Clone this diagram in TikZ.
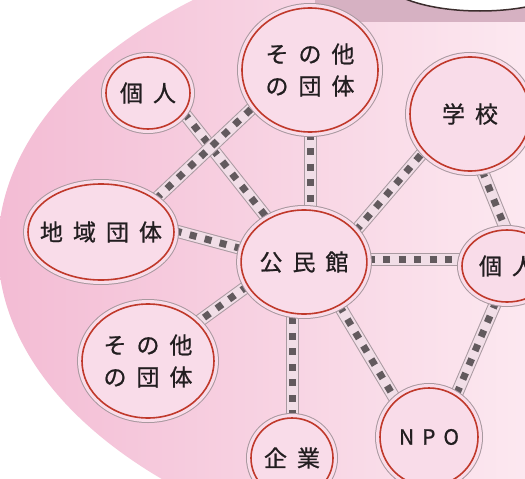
\documentclass[tikz,border=0pt]{standalone}
\usepackage{fontspec}
\newfontfamily\jp[FakeBold=0.8]{Noto Sans CJK JP}
\usetikzlibrary{shapes.geometric}
\pgfdeclarelayer{bg}
\pgfdeclarelayer{lines}
\pgfsetlayers{bg,lines,main}
\definecolor{pinkA}{HTML}{F3BCD4}
\definecolor{pinkB}{HTML}{FCE8F0}
\definecolor{cfill}{HTML}{F9DCE9}
\definecolor{bred}{HTML}{C0392B}
\definecolor{halo}{HTML}{A8989F}
\definecolor{txt}{HTML}{221E20}
\definecolor{band}{HTML}{F1DEE7}
\definecolor{bandedge}{HTML}{A99AA1}
\definecolor{sq}{HTML}{625A5E}
\definecolor{mauve}{HTML}{D6B1C2}
\definecolor{bubbleline}{HTML}{3B2D2D}
\newcommand\gp{\hspace{10pt}}
\tikzset{
  bubble/.style={ellipse, inner sep=0pt, draw=bred, line width=1.6pt, fill=cfill,
    text=txt, font=\jp\fontsize{23}{32}\selectfont, align=center,
    preaction={draw=halo, line width=10pt},
    preaction={draw=cfill, line width=8pt}},
  chain/.style={draw=sq, line width=7pt, dash pattern=on 7pt off 8.5pt,
    preaction={draw=bandedge, line width=13pt, solid},
    preaction={draw=band, line width=11pt, solid}}
}
\begin{document}
\begin{tikzpicture}[x=1pt,y=-1pt]
\useasboundingbox (0,0) rectangle (525,479);
\begin{pgfonlayer}{bg}
  \fill[white] (0,0) rectangle (525,479);
  \begin{scope}
    \clip (571,248) ellipse [x radius=573, y radius=330];
    \shade[left color=pinkA, right color=pinkB] (0,0) rectangle (525,479);
  \end{scope}
  \fill[mauve] (315,0) rectangle (525,22);
  \draw[bubbleline, line width=1.5pt, fill=white] (480,-25) ellipse [x radius=100, y radius=36];
\end{pgfonlayer}

\node[bubble, minimum width=84pt, minimum height=72pt] (k1) at (148,93) {個\gp 人};
\node[bubble, minimum width=136pt, minimum height=124pt] (ot) at (310,70) {そ\gp の\gp 他\\の\gp 団\gp 体};
\node[bubble, minimum width=120pt, minimum height=114pt] (gk) at (470,114) {学\gp 校};
\node[bubble, minimum width=146pt, minimum height=96pt] (ct) at (101,232) {\makebox[0pt]{地\gp 域\gp 団\gp 体}};
\node[bubble, minimum width=114pt, minimum height=104pt] (kmk) at (304,262) {公\gp 民\gp 館};
\node[bubble, minimum width=90pt, minimum height=72pt] (k2) at (507,266) {個\gp 人};
\node[bubble, minimum width=132pt, minimum height=114pt] (bo) at (148,361) {そ\gp の\gp 他\\の\gp 団\gp 体};
\node[bubble, minimum width=82pt, minimum height=80pt] (kg) at (292,458) {企\gp 業};
\node[bubble, minimum width=98pt, minimum height=98pt, font=\jp\fontsize{21}{26}\selectfont] (npo) at (429,437) {N\hspace{8pt}P\hspace{8pt}O};

\begin{pgfonlayer}{lines}
  \draw[chain] (k1.-29) -- (kmk.130);
  \draw[chain] (ct.31) -- (ot.213);
  \draw[chain] (ct.1) -- (kmk.168);
  \draw[chain] (ot.south) -- (ot.south |- kmk.north);
  \draw[chain] (kmk.31) -- (gk.219);
  \draw[chain] (gk.-78) -- (k2.92);
  \draw[chain] (kmk.2) -- (kmk.2 -| k2.west);
  \draw[chain] (kmk.203) -- (bo.38);
  \draw[chain] (kg.north) -- (kg.north |- kmk.south);
  \draw[chain] (kmk.-51) -- (npo.132);
  \draw[chain] (k2.253) -- (npo.57);
\end{pgfonlayer}
\end{tikzpicture}
\end{document}
